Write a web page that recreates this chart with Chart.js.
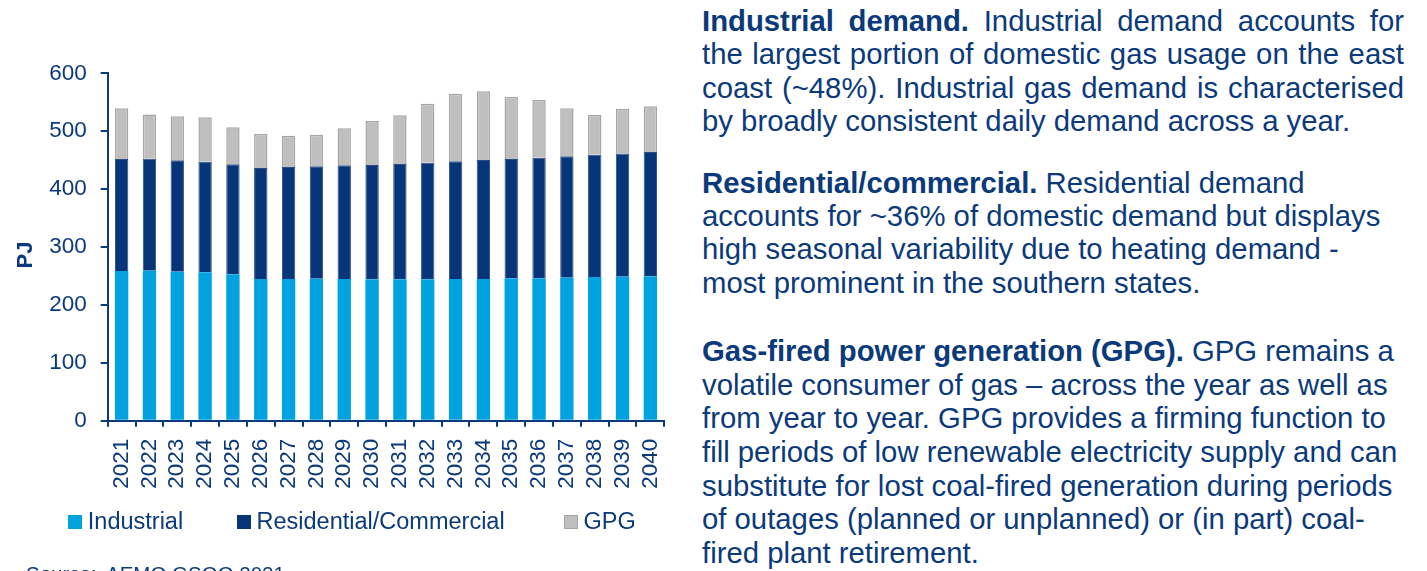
<!DOCTYPE html>
<html>
<head>
<meta charset="utf-8">
<script src="https://cdn.jsdelivr.net/npm/chart.js@4.4.1/dist/chart.umd.min.js"></script>
<style>
  html, body { margin:0; padding:0; background:#ffffff; }
  body { width:1427px; height:571px; position:relative; overflow:hidden;
         font-family:"Liberation Sans", Arial, sans-serif; color:#0b3a7c; }
  #chartWrap { position:absolute; left:0; top:0; width:690px; height:571px; }
  #ytitle { position:absolute; left:25.3px; top:255px; transform:translate(-50%,-50%) rotate(-90deg);
            font-weight:bold; font-size:22px; line-height:22px; white-space:nowrap; }
  #legend { position:absolute; left:0; top:0; width:690px; height:571px; pointer-events:none; }
  .lg-item { position:absolute; top:508px; height:26px; white-space:nowrap; font-size:23.5px; line-height:26px; }
  .lg-box { position:absolute; left:0; top:6.5px; width:14px; height:14px; box-sizing:border-box; }
  .lg-text { position:absolute; left:19.5px; top:0; }
  .src { position:absolute; top:564.3px; font-size:20.5px; line-height:20px; white-space:nowrap; }
  .txt { position:absolute; left:702px; width:702px; font-size:29.3px; white-space:nowrap; }
  .txt div { height:33.33px; line-height:33.33px; }
  .txt.p3 div { height:33.6px; line-height:33.6px; }
  .just { text-align:justify; text-align-last:justify; white-space:normal; }
  b { font-weight:bold; }
</style>
</head>
<body>
<div id="chartWrap"><canvas id="c" width="690" height="571"></canvas></div>
<div id="ytitle">PJ</div>
<div id="legend"></div>
<div class="src" style="left:26px;">Source:</div>
<div class="src" style="left:106px;">AEMO GSOO 2021</div>

<div class="txt" style="top:4px;">
  <div class="just"><b>Industrial demand.</b> Industrial demand accounts for</div>
  <div class="just">the largest portion of domestic gas usage on the east</div>
  <div class="just">coast (~48%). Industrial gas demand is characterised</div>
  <div>by broadly consistent daily demand across a year.</div>
</div>
<div class="txt" style="top:165.6px;">
  <div><b>Residential/commercial.</b> Residential demand</div>
  <div>accounts for ~36% of domestic demand but displays</div>
  <div>high seasonal variability due to heating demand -</div>
  <div>most prominent in the southern states.</div>
</div>
<div class="txt p3" style="top:334.3px;">
  <div><b>Gas-fired power generation (GPG).</b> GPG remains a</div>
  <div>volatile consumer of gas – across the year as well as</div>
  <div>from year to year. GPG provides a firming function to</div>
  <div>fill periods of low renewable electricity supply and can</div>
  <div>substitute for lost coal-fired generation during periods</div>
  <div>of outages (planned or unplanned) or (in part) coal-</div>
  <div>fired plant retirement.</div>
</div>

<script>
const years = ['2021','2022','2023','2024','2025','2026','2027','2028','2029','2030',
               '2031','2032','2033','2034','2035','2036','2037','2038','2039','2040'];
const industrial  = [258.5,259.0,257.4,256.3,252.8,244.7,244.7,245.3,244.7,244.2,
                     244.2,244.2,244.7,244.7,245.9,245.9,247.0,248.2,248.7,249.4];
const residential = [193.5,193.5,192.3,191.0,190.0,191.7,193.3,194.0,196.3,197.4,
                     199.1,201.4,203.3,205.6,206.1,208.3,209.6,211.2,213.0,214.6];
const gpg         = [87.5,76.5,76.0,76.7,63.9,58.6,54.3,54.7,64.0,76.0,
                     84.2,101.9,116.8,118.6,107.6,99.7,82.9,68.6,77.2,79.0];
const yTicks = [0,100,200,300,400,500,600];
const seriesNames = ['Industrial','Residential/Commercial','GPG'];

const NAVY = '#0b3a7c';
const FONT = '"Liberation Sans", Arial, sans-serif';

const chart = new Chart(document.getElementById('c'), {
  type: 'bar',
  data: {
    labels: years,
    datasets: [
      { label: seriesNames[0], data: industrial,  backgroundColor: '#00a3e0', borderWidth: 0 },
      { label: seriesNames[1], data: residential, backgroundColor: '#06357a', borderColor:'#2e4c82', borderWidth: 1 },
      { label: seriesNames[2], data: gpg,         backgroundColor: '#bfbfbf', borderColor: '#a6a6a6', borderWidth: 1.5 }
    ]
  },
  options: {
    responsive: false,
    animation: false,
    events: [],
    layout: { padding: { left: 0, right: 25, top: 73.3, bottom: 0 } },
    datasets: { bar: { categoryPercentage: 1.0, barPercentage: 0.48 } },
    plugins: { legend: { display: false }, tooltip: { enabled: false }, title: { display: false } },
    scales: {
      x: {
        stacked: true,
        offset: true,
        border: { display: true, color: NAVY, width: 2 },
        grid: { display: true, drawOnChartArea: false, drawTicks: true, tickLength: 6, color: NAVY, lineWidth: 2, offset: true },
        ticks: { autoSkip: false, maxRotation: 90, minRotation: 90, padding: 12,
                 color: NAVY, font: { family: FONT, size: 22.5 } },
        afterFit: (s) => { s.height = 571 - 420.7; }
      },
      y: {
        stacked: true,
        min: 0, max: 600,
        border: { display: true, color: NAVY, width: 2 },
        grid: { display: true, drawOnChartArea: false, drawTicks: true, tickLength: 7, color: NAVY, lineWidth: 2 },
        ticks: { padding: 14, color: NAVY, font: { family: FONT, size: 22.5 } },
        afterBuildTicks: (s) => { s.ticks = yTicks.map(v => ({ value: v })); },
        afterFit: (s) => { s.width = 107.7; }
      }
    }
  }
});

// HTML legend built from the chart's datasets
const legendX = [68.3, 237, 564];
const lg = document.getElementById('legend');
chart.data.datasets.forEach((ds, i) => {
  const item = document.createElement('div');
  item.className = 'lg-item';
  item.style.left = legendX[i] + 'px';
  const box = document.createElement('div');
  box.className = 'lg-box';
  box.style.background = ds.backgroundColor;
  if (i === 2) box.style.border = '1.5px solid ' + ds.borderColor;
  const t = document.createElement('div');
  t.className = 'lg-text';
  t.textContent = ds.label;
  item.appendChild(box); item.appendChild(t);
  lg.appendChild(item);
});
</script>
</body>
</html>
